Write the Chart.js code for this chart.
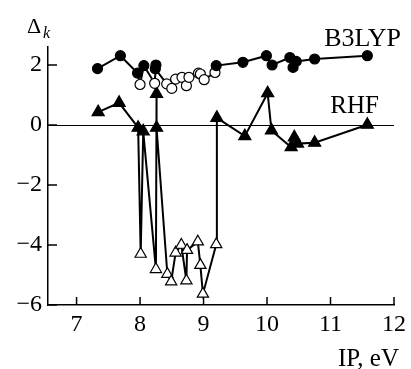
<!DOCTYPE html>
<html>
<head>
<meta charset="utf-8">
<script src="https://cdn.jsdelivr.net/npm/chart.js@4/dist/chart.umd.min.js"></script>
<style>
  html, body { margin: 0; padding: 0; background: #fff; }
  #wrap { width: 411px; height: 369px; }
</style>
</head>
<body>
<div id="wrap"><canvas id="chart" width="411" height="369"></canvas></div>
<script>
// B3LYP points, in the order the line joins them (open = hollow circle)
const b3lypIP    = [7.33, 7.69, 7.96, 8.00, 8.06, 8.23, 8.25, 8.24, 8.42, 8.50, 8.56, 8.66, 8.73, 8.77, 8.92, 8.95, 9.01, 9.18, 9.20, 9.62, 9.99, 10.08, 10.36, 10.41, 10.46, 10.75, 11.58];
const b3lypDelta = [1.88, 2.31, 1.73, 1.35, 1.98, 1.39, 2.00, 1.87, 1.37, 1.22, 1.53, 1.59, 1.31, 1.59, 1.73, 1.70, 1.51, 1.75, 1.98, 2.09, 2.31, 2.00, 2.25, 1.92, 2.12, 2.20, 2.31];
const b3lypOpen  = [0, 0, 0, 1, 0, 1, 0, 0, 1, 1, 1, 1, 1, 1, 1, 1, 1, 1, 0, 0, 0, 0, 0, 0, 0, 0, 0];

// RHF points (open = hollow triangle)
const rhfIP    = [7.34, 7.67, 7.97, 8.01, 8.05, 8.25, 8.26, 8.26, 8.43, 8.49, 8.56, 8.65, 8.73, 8.74, 8.91, 8.95, 8.99, 9.20, 9.21, 9.65, 10.01, 10.07, 10.38, 10.43, 10.48, 10.75, 11.58];
const rhfDelta = [0.43, 0.74, -0.09, -4.30, -0.21, -4.81, 1.04, -0.09, -4.97, -5.22, -4.26, -4.00, -5.19, -4.17, -3.89, -4.67, -5.63, -3.98, 0.24, -0.37, 1.06, -0.18, -0.74, -0.41, -0.62, -0.59, 0.01];
const rhfOpen  = [0, 0, 0, 1, 0, 1, 0, 0, 1, 1, 1, 1, 1, 1, 1, 1, 1, 1, 0, 0, 0, 0, 0, 0, 0, 0, 0];

const xTicks = [7, 8, 9, 10, 11, 12];
const yTicks = [-6, -4, -2, 0, 2];

const SERIF = '"Liberation Serif", "Times New Roman", serif';

function toPoints(xs, ys) {
  return xs.map((x, i) => ({ x: x, y: ys[i] }));
}

// inward ticks, zero line and the free text labels
const decorations = {
  id: 'decorations',
  beforeDatasetsDraw(chart) {
    const { ctx, chartArea, scales } = chart;
    const xs = scales.x, ys = scales.y;
    ctx.save();
    ctx.strokeStyle = '#000';
    ctx.lineWidth = 1.2;
    const y0 = Math.round(ys.getPixelForValue(0)) + 0.5;
    ctx.beginPath();
    ctx.moveTo(chartArea.left, y0);
    ctx.lineTo(chartArea.right, y0);
    ctx.stroke();

    ctx.lineWidth = 1.5;
    xTicks.forEach(v => {
      const px = xs.getPixelForValue(v);
      ctx.beginPath();
      ctx.moveTo(px, chartArea.bottom);
      ctx.lineTo(px, chartArea.bottom - 8);
      ctx.stroke();
    });
    yTicks.forEach(v => {
      const py = ys.getPixelForValue(v);
      ctx.beginPath();
      ctx.moveTo(chartArea.left, py);
      ctx.lineTo(chartArea.left + 9, py);
      ctx.stroke();
    });
    ctx.restore();
  },
  afterDraw(chart) {
    const { ctx } = chart;
    ctx.save();
    ctx.fillStyle = '#000';
    ctx.textBaseline = 'alphabetic';
    ctx.font = '22px ' + SERIF;
    ctx.textAlign = 'left';
    ctx.fillText('Δ', 27, 33);
    ctx.font = 'italic 16px ' + SERIF;
    ctx.fillText('k', 43, 38);

    ctx.textAlign = 'right';
    ctx.font = '26px ' + SERIF;
    ctx.fillText('B3LYP', 401, 46);
    ctx.font = '25px ' + SERIF;
    ctx.fillText('RHF', 379, 113);
    ctx.fillText('IP, eV', 399, 366);
    ctx.restore();
  }
};

const chart = new Chart(document.getElementById('chart').getContext('2d'), {
  type: 'scatter',
  data: {
    datasets: [
      {
        label: 'B3LYP',
        data: toPoints(b3lypIP, b3lypDelta),
        showLine: true,
        borderColor: '#000',
        borderWidth: 2,
        tension: 0,
        pointStyle: 'circle',
        pointRadius: 5,
        pointBorderWidth: 1.2,
        pointBorderColor: '#000',
        pointBackgroundColor: b3lypOpen.map(o => o ? '#fff' : '#000'),
      },
      {
        label: 'RHF',
        data: toPoints(rhfIP, rhfDelta),
        showLine: true,
        borderColor: '#000',
        borderWidth: 2,
        tension: 0,
        pointStyle: 'triangle',
        pointRadius: rhfOpen.map(o => o ? 6.5 : 7),
        pointBorderWidth: 1.2,
        pointBorderColor: '#000',
        pointBackgroundColor: rhfOpen.map(o => o ? '#fff' : '#000'),
      },
    ],
  },
  options: {
    responsive: false,
    animation: false,
    devicePixelRatio: 1,
    layout: { padding: { top: 47, right: 14, left: 0, bottom: 0 } },
    plugins: {
      legend: { display: false },
      tooltip: { enabled: false },
    },
    scales: {
      x: {
        type: 'linear',
        min: 6.55,
        max: 12,
        afterBuildTicks: s => { s.ticks = xTicks.map(v => ({ value: v })); },
        afterFit: s => { s.height = 64; },
        grid: { display: false, drawTicks: false },
        border: { display: true, color: '#000', width: 1.5 },
        ticks: {
          color: '#000',
          padding: 5,
          font: { family: SERIF, size: 24 },
          maxRotation: 0,
        },
      },
      y: {
        min: -6,
        max: 2.6,
        afterBuildTicks: s => { s.ticks = yTicks.map(v => ({ value: v })); },
        afterFit: s => { s.width = 48; },
        grid: { display: false, drawTicks: false },
        border: { display: true, color: '#000', width: 1.5 },
        ticks: {
          color: '#000',
          padding: 6,
          font: { family: SERIF, size: 24 },
          callback: v => String(v).replace('-', '\u2212'),
        },
      },
    },
  },
  plugins: [decorations],
});
</script>
</body>
</html>
